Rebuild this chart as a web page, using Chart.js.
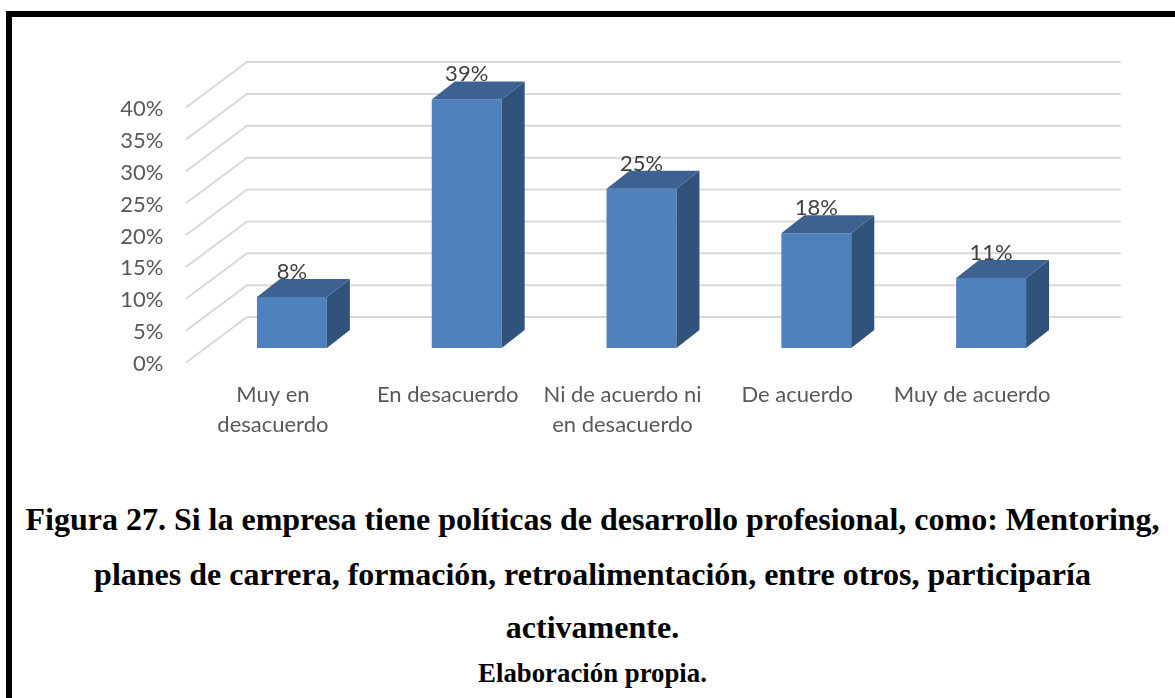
<!DOCTYPE html>
<html lang="es">
<head>
<meta charset="utf-8">
<title>Figura 27</title>
<script src="https://cdn.jsdelivr.net/npm/chart.js@4.4.1/dist/chart.umd.min.js"></script>
<style>
  html, body { margin: 0; padding: 0; background: #fff; overflow: hidden; }
  body { width: 1175px; height: 698px; position: relative; }
  .marco {
    position: absolute; left: 6px; top: 11px;
    width: 1220px; height: 740px;
    border: 6px solid #000; box-sizing: border-box;
  }
  #grafico { position: absolute; left: 0; top: 0; }
  .pie {
    position: absolute; left: 0; width: 1185px;
    text-align: center; font-family: "Liberation Serif", "Times New Roman", serif;
    font-weight: bold; color: #000; white-space: nowrap;
  }
  .titulo { font-size: 32px; height: 40px; line-height: 40px; }
  .fuente { font-size: 26.8px; height: 34px; line-height: 34px; }
</style>
</head>
<body>
<div class="marco"></div>
<canvas id="grafico" width="1175" height="460"></canvas>
<div class="pie titulo" style="top:499px">Figura 27. Si la empresa tiene políticas de desarrollo profesional, como: Mentoring,</div>
<div class="pie titulo" style="top:554px">planes de carrera, formación, retroalimentación, entre otros, participaría</div>
<div class="pie titulo" style="top:607px">activamente.</div>
<div class="pie fuente" style="top:656px">Elaboración propia.</div>

<script>
// Datos de la encuesta
const categorias = [
    ['Muy en', 'desacuerdo'],
    'En desacuerdo',
    ['Ni de acuerdo ni', 'en desacuerdo'],
    'De acuerdo',
    'Muy de acuerdo'
];
const porcentajes = [8, 39, 25, 18, 11];
const escalaMax = 40;
const escalaPaso = 5;

// Perspectiva del gráfico 3D
const FONDO = { dx: 42.5, dy: -31 };     // pared del fondo respecto al frente de la barra
const FRENTE = { dx: -18.5, dy: 14.5 };  // borde delantero del piso
const PROF = { dx: 23, dy: -18 };        // profundidad de cada barra

const COLOR_FRENTE = '#4f81bd';
const COLOR_TAPA = '#3d6291';
const COLOR_LADO = '#31527b';

const fuenteX = { family: 'Lato', size: 22, lineHeight: 1.36 };
const fuenteY = { family: 'Lato', size: 22, lineHeight: 1.1 };

const barras3d = {
    id: 'barras3d',
    beforeDatasetsDraw(chart) {
        const { ctx, chartArea, scales } = chart;
        const y = scales.y;
        ctx.save();
        ctx.strokeStyle = '#d9d9d9';
        ctx.lineWidth = 2;
        y.ticks.forEach(t => {
            const py = y.getPixelForValue(t.value);
            ctx.beginPath();
            ctx.moveTo(chartArea.left + FRENTE.dx, py + FRENTE.dy);
            ctx.lineTo(chartArea.left + FONDO.dx, py + FONDO.dy);
            ctx.lineTo(chartArea.right + FONDO.dx, py + FONDO.dy);
            ctx.stroke();
        });
        ctx.restore();
    },
    afterDatasetsDraw(chart) {
        const { ctx } = chart;
        const meta = chart.getDatasetMeta(0);
        ctx.save();
        meta.data.forEach((bar, i) => {
            const { x, y, base, width } = bar.getProps(['x', 'y', 'base', 'width'], true);
            const izq = x - width / 2;
            const der = x + width / 2;

            // cara lateral
            ctx.fillStyle = COLOR_LADO;
            ctx.beginPath();
            ctx.moveTo(der, y);
            ctx.lineTo(der + PROF.dx, y + PROF.dy);
            ctx.lineTo(der + PROF.dx, base + PROF.dy);
            ctx.lineTo(der, base);
            ctx.closePath();
            ctx.fill();

            // tapa superior
            ctx.fillStyle = COLOR_TAPA;
            ctx.beginPath();
            ctx.moveTo(izq, y);
            ctx.lineTo(izq + PROF.dx, y + PROF.dy);
            ctx.lineTo(der + PROF.dx, y + PROF.dy);
            ctx.lineTo(der, y);
            ctx.closePath();
            ctx.fill();

            // etiqueta de valor
            ctx.fillStyle = '#404040';
            ctx.font = '22px Lato';
            ctx.textAlign = 'center';
            ctx.textBaseline = 'middle';
            ctx.fillText(porcentajes[i] + '%', x, y + PROF.dy - 7);
        });
        ctx.restore();
    }
};

new Chart(document.getElementById('grafico'), {
    type: 'bar',
    data: {
        labels: categorias,
        datasets: [{
            data: porcentajes,
            backgroundColor: COLOR_FRENTE,
            categoryPercentage: 0.8,
            barPercentage: 0.5
        }]
    },
    options: {
        responsive: false,
        animation: false,
        events: [],
        layout: { padding: { left: 104.5, right: 96.5, top: 93, bottom: 22 } },
        plugins: {
            legend: { display: false },
            tooltip: { enabled: false }
        },
        scales: {
            x: {
                grid: { display: false, drawTicks: false },
                border: { display: false },
                ticks: {
                    color: '#595959',
                    font: fuenteX,
                    padding: 32,
                    labelOffset: -19,
                    maxRotation: 0,
                    autoSkip: false
                },
                afterFit: s => { s.height = 90; }
            },
            y: {
                min: 0,
                max: escalaMax,
                grid: { display: false, drawTicks: false },
                border: { display: false },
                ticks: {
                    stepSize: escalaPaso,
                    autoSkip: false,
                    color: '#595959',
                    font: fuenteY,
                    padding: 41,
                    labelOffset: 16,
                    callback: v => v + '%'
                },
                afterFit: s => { s.width = 100; }
            }
        }
    },
    plugins: [barras3d]
});
</script>
</body>
</html>
